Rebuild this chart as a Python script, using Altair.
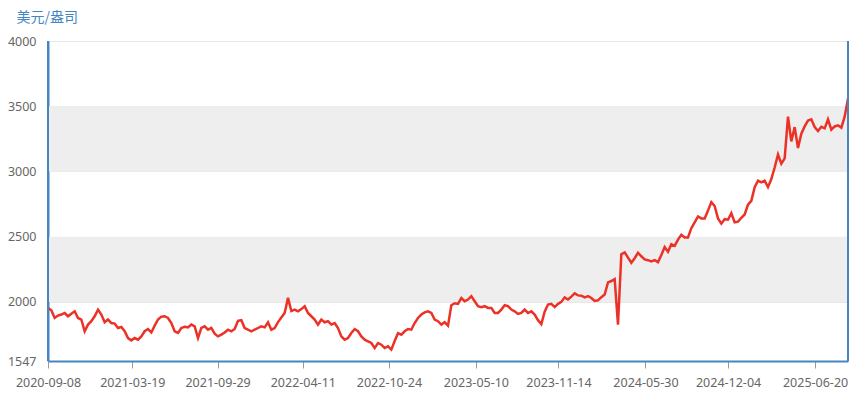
import altair as alt
import pandas as pd

# Gold price (USD/oz), sampled evenly across the period shown
start_date = "2020-09-08"
end_date = "2025-09-03"
prices = [
    1954, 1936, 1877, 1895, 1903, 1915, 1890, 1910, 1928, 1877,
    1865, 1775, 1826, 1852, 1890, 1941, 1903, 1844, 1865, 1838,
    1834, 1800, 1808, 1775, 1723, 1705, 1723, 1710, 1736, 1775,
    1792, 1766, 1818, 1865, 1887, 1890, 1877, 1838, 1775, 1762,
    1800, 1810, 1805, 1826, 1813, 1723, 1800, 1813, 1787, 1800,
    1757, 1736, 1749, 1766, 1787, 1775, 1792, 1855, 1860, 1800,
    1787, 1775, 1787, 1800, 1813, 1805, 1844, 1787, 1800, 1845,
    1880, 1915, 2031, 1930, 1941, 1928, 1945, 1967, 1915, 1890,
    1865, 1826, 1865, 1844, 1852, 1826, 1838, 1800, 1736, 1710,
    1723, 1762, 1792, 1775, 1736, 1710, 1698, 1685, 1646, 1685,
    1672, 1646, 1659, 1634, 1700, 1760, 1749, 1775, 1792, 1787,
    1838, 1877, 1903, 1920, 1928, 1915, 1865, 1852, 1826, 1844,
    1818, 1975, 1990, 1985, 2030, 2005, 2018, 2044, 2005, 1967,
    1959, 1967, 1954, 1954, 1915, 1915, 1941, 1975, 1967, 1941,
    1928, 1908, 1915, 1941, 1915, 1928, 1903, 1860, 1830, 1925,
    1980, 1985, 1960, 1985, 2000, 2035, 2018, 2040, 2065, 2050,
    2048, 2035, 2044, 2030, 2008, 2012, 2036, 2057, 2150, 2160,
    2175, 1826, 2365, 2380, 2340, 2300, 2335, 2377, 2350, 2326,
    2320, 2310, 2320, 2305, 2360, 2420, 2385, 2442, 2430, 2478,
    2515, 2494, 2494, 2565, 2610, 2655, 2640, 2640, 2700, 2765,
    2735, 2640, 2600, 2634, 2630, 2680, 2610, 2615, 2645, 2670,
    2745, 2775, 2880, 2930, 2917, 2930, 2880, 2942, 3030, 3130,
    3060, 3100, 3420, 3230, 3340, 3180, 3290, 3345, 3390, 3400,
    3340, 3310, 3342, 3330, 3400, 3320, 3345, 3354, 3336, 3420,
    3560,
]
tick_dates = [
    "2020-09-08", "2021-03-19", "2021-09-29", "2022-04-11", "2022-10-24",
    "2023-05-10", "2023-11-14", "2024-05-30", "2024-12-04", "2025-06-20",
]
y_ticks = [1547, 2000, 2500, 3000, 3500, 4000]
band_lo = [2000, 3000]
band_hi = [2500, 3500]

dates = pd.date_range(start_date, end_date, periods=len(prices))
df = pd.DataFrame({"date": dates, "price": prices})
bands = pd.DataFrame({"lo": band_lo, "hi": band_hi})


def dt(s):
    y, m, d = (int(v) for v in s.split("-"))
    return alt.DateTime(year=y, month=m, date=d)


BLUE = "#4585c2"
x_scale = alt.Scale(domain=[dt(start_date), dt(end_date)])
y_scale = alt.Scale(domain=[1547, 4000], nice=False, zero=False)

band_layer = alt.Chart(bands).mark_rect(color="#eeeeee").encode(
    y=alt.Y("hi:Q", scale=y_scale),
    y2="lo:Q",
)

line = alt.Chart(df).mark_line(color="#ec3127", strokeWidth=2.5, clip=True).encode(
    x=alt.X(
        "date:T",
        scale=x_scale,
        axis=alt.Axis(
            title=None,
            values=[dt(s) for s in tick_dates],
            format="%Y-%m-%d",
            labelFont="Noto Sans",
            labelFontSize=12.5,
            labelColor="#666666",
            labelPadding=8,
            labelOverlap=False,
            labelFlush=False,
            domainColor=BLUE,
            domainWidth=2,
            tickColor="#9a9a9a",
            tickWidth=1,
            tickSize=7,
            grid=False,
            zindex=1,
        ),
    ),
    y=alt.Y(
        "price:Q",
        scale=y_scale,
        axis=alt.Axis(
            title="美元/盎司",
            titleAngle=0,
            titleX=-32,
            titleY=-24,
            titleAlign="left",
            titleBaseline="middle",
            titleFont="Noto Sans CJK SC",
            titleFontSize=14,
            titleFontWeight="normal",
            titleColor=BLUE,
            values=y_ticks,
            format="d",
            labelFont="Noto Sans",
            labelFontSize=12.5,
            labelColor="#666666",
            labelPadding=12,
            ticks=False,
            domainColor=BLUE,
            domainWidth=2,
            grid=True,
            gridColor="#e8e8e8",
            gridWidth=1,
            zindex=0,
        ),
    ),
)

left_edge = alt.Chart(df).mark_rule(color=BLUE, strokeWidth=2).encode(
    x=alt.value(0), y=alt.value(0), y2=alt.value(320)
)
right_edge = alt.Chart(df).mark_rule(color=BLUE, strokeWidth=2).encode(
    x=alt.value(800), y=alt.value(0), y2=alt.value(320)
)

chart = (
    alt.layer(band_layer, line, left_edge, right_edge)
    .properties(
        width=800,
        height=320,
        autosize=alt.AutoSizeParams(type="none"),
        padding={"left": 40, "top": 33, "right": 9, "bottom": 30},
    )
    .configure_view(strokeWidth=0)
)

chart.save("out.html", embed_options={"renderer": "svg", "actions": False})
